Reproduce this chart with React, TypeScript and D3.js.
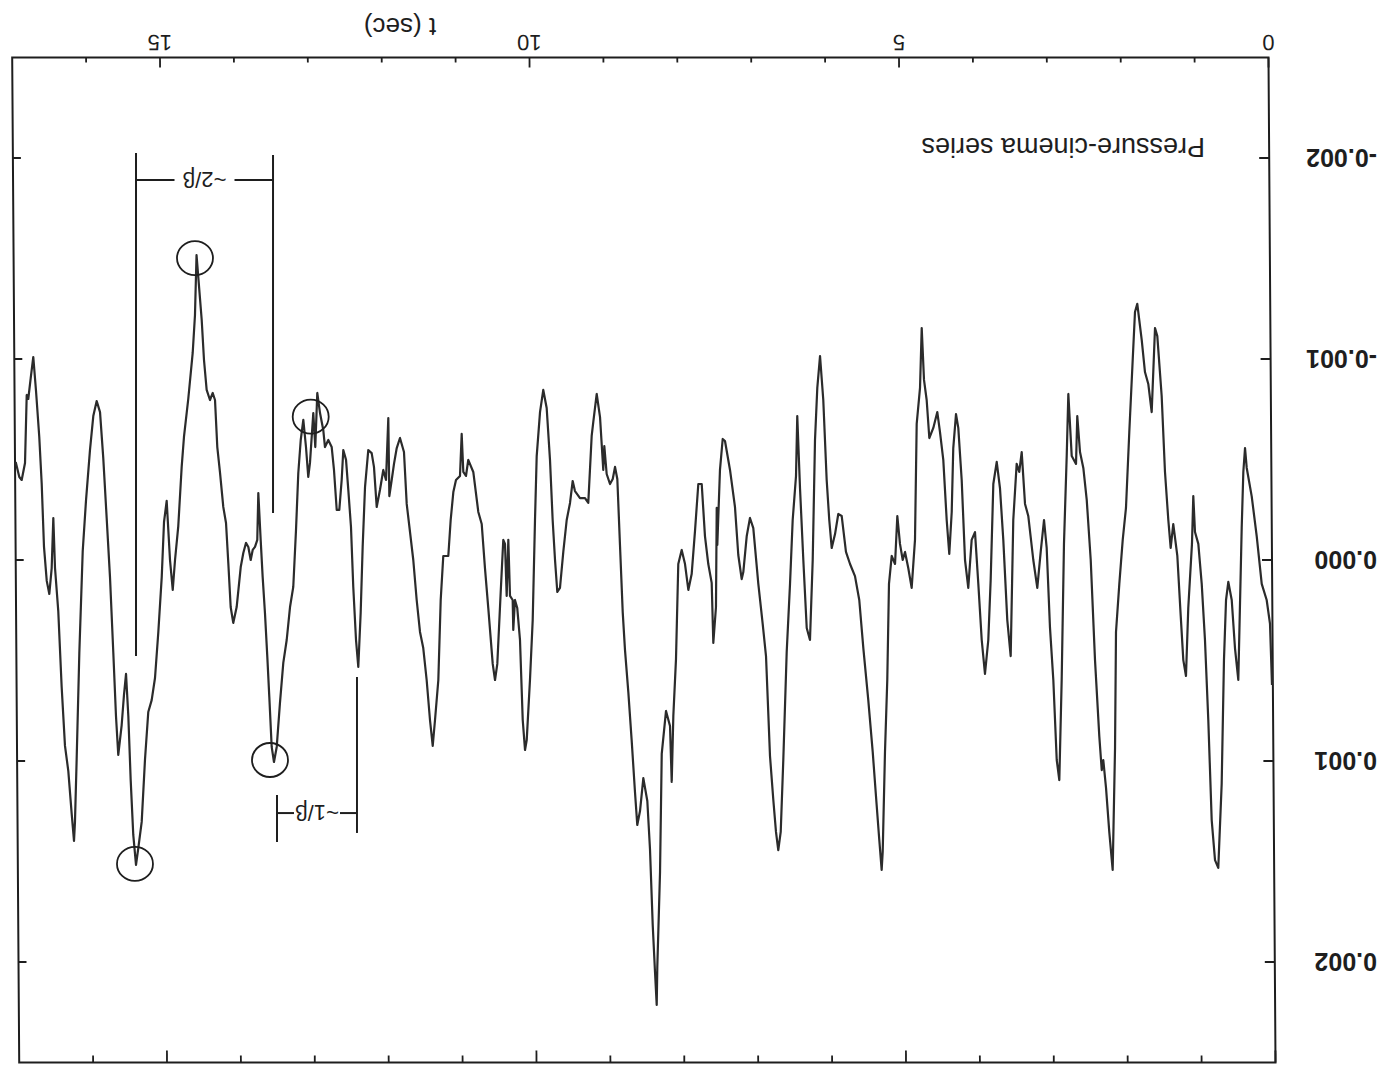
import React, { useEffect, useRef } from 'react';
import * as d3 from 'd3';

// time axis (sec) of the pressure trace
const timeSec = [
  0, 0.027, 0.072, 0.139, 0.207, 0.275, 0.342, 0.365, 0.388, 0.410, 0.456, 0.501, 0.545, 0.591, 0.622, 0.650,
  0.681, 0.727, 0.771, 0.816, 0.862, 0.907, 0.951, 0.997, 1.042, 1.065, 1.083, 1.133, 1.164, 1.200, 1.235, 1.281,
  1.336, 1.371, 1.403, 1.448, 1.493, 1.552, 1.583, 1.628, 1.674, 1.719, 1.763, 1.823, 1.854, 1.885, 1.931, 1.976,
  2.020, 2.066, 2.111, 2.124, 2.156, 2.202, 2.246, 2.283, 2.304, 2.337,
  2.395, 2.453, 2.507, 2.553, 2.598, 2.635, 2.652, 2.710, 2.756, 2.778, 2.815, 2.846, 2.878, 2.913, 2.959, 3.004,
  3.049, 3.085, 3.130, 3.176, 3.230, 3.298, 3.342, 3.387, 3.420, 3.455, 3.501, 3.536, 3.582, 3.636, 3.681, 3.725,
  3.771, 3.807, 3.839, 3.884, 3.928, 3.974, 4.019, 4.064, 4.110, 4.154, 4.199, 4.245, 4.276, 4.313, 4.334, 4.367,
  4.402, 4.448, 4.493, 4.529, 4.583, 4.637, 4.673, 4.709, 4.740,
  4.763, 4.808, 4.831, 4.876, 4.922, 4.966, 4.997, 5.034, 5.070, 5.101, 5.146, 5.183, 5.206, 5.237, 5.268, 5.282,
  5.314, 5.359, 5.403, 5.463, 5.530, 5.585, 5.643, 5.710, 5.765, 5.823, 5.869, 5.913, 5.958, 5.991, 6.026, 6.072,
  6.116, 6.153, 6.184, 6.215, 6.252, 6.296, 6.342, 6.387, 6.424, 6.441, 6.486, 6.522, 6.567, 6.613, 6.648, 6.681,
  6.712, 6.748, 6.793, 6.847, 6.892, 6.951, 7.019, 7.064, 7.108, 7.154,
  7.176, 7.222, 7.267, 7.334, 7.402, 7.433, 7.470, 7.506, 7.514, 7.524, 7.560, 7.582, 7.628, 7.673, 7.717, 7.763,
  7.808, 7.853, 7.898, 7.943, 7.988, 8.034, 8.065, 8.101, 8.123, 8.146, 8.200, 8.258, 8.281, 8.318, 8.326, 8.349,
  8.380, 8.417, 8.453, 8.507, 8.552, 8.589, 8.620, 8.665, 8.710, 8.755, 8.786, 8.823, 8.859, 8.890, 8.921, 8.958,
  9.003, 9.035, 9.049, 9.093, 9.138, 9.184, 9.206, 9.252, 9.296, 9.364, 9.432, 9.463, 9.499,
  9.544, 9.590, 9.635, 9.671, 9.702, 9.734, 9.770, 9.815, 9.861, 9.905, 9.950, 9.973, 10.004, 10.041, 10.085, 10.108,
  10.139, 10.176, 10.213, 10.244, 10.267, 10.275, 10.311, 10.334, 10.356, 10.379, 10.402, 10.437, 10.483, 10.514,
  10.545, 10.605, 10.650, 10.694, 10.740, 10.808, 10.876, 10.907, 10.943, 10.965, 10.988, 11.042, 11.078, 11.114,
  11.146, 11.214, 11.249, 11.281, 11.326, 11.357, 11.394, 11.439, 11.485, 11.529, 11.574, 11.620, 11.664, 11.709,
  11.746, 11.800, 11.844, 11.881, 11.912, 11.944, 11.958, 11.989, 12.026, 12.071,
  12.115, 12.152, 12.183, 12.229, 12.273, 12.305, 12.332, 12.364, 12.395, 12.432, 12.463, 12.499, 12.530, 12.567,
  12.589, 12.621, 12.656, 12.693, 12.724, 12.770, 12.815, 12.838, 12.882, 12.919, 12.946, 12.973, 13.018, 13.041,
  13.072, 13.108, 13.143, 13.176, 13.207, 13.244, 13.288, 13.333, 13.379, 13.424, 13.468, 13.505, 13.536, 13.568,
  13.595, 13.627, 13.658, 13.685, 13.717, 13.731, 13.762, 13.793, 13.820, 13.852, 13.884, 13.920, 13.955, 14.010,
  14.056, 14.091, 14.123, 14.154, 14.191, 14.235, 14.272, 14.303, 14.334, 14.371, 14.416, 14.452, 14.483, 14.553,
  14.574, 14.605, 14.665, 14.723, 14.754, 14.800, 14.844, 14.875, 14.912, 14.957, 14.993, 15.024, 15.070, 15.115,
  15.160, 15.206, 15.250, 15.295, 15.341, 15.372, 15.409, 15.444, 15.476, 15.507, 15.535, 15.566, 15.612, 15.643,
  15.679, 15.724, 15.769, 15.815, 15.859, 15.904, 15.950, 15.995, 16.049, 16.093, 16.139, 16.175, 16.198, 16.211,
  16.242, 16.288, 16.333, 16.378, 16.424, 16.468, 16.491, 16.513, 16.545, 16.580, 16.617, 16.648, 16.681, 16.725,
  16.762, 16.797, 16.830, 16.851, 16.874, 16.919, 16.951, 17.0
];

// pressure values
const pressure = [
  0.622e-3, 0.318e-3, 0.199e-3, 0.119e-3, -0.119e-3, -0.318e-3, -0.458e-3, -0.557e-3, -0.438e-3, -0.159e-3, 0.597e-3, 0.438e-3, 0.199e-3, 0.109e-3, 0.199e-3, 0.498e-3,
  1.114e-3, 1.532e-3, 1.493e-3, 1.294e-3, 0.796e-3, 0.398e-3, 0.119e-3, -0.080e-3, -0.139e-3, -0.318e-3, -0.080e-3, 0.239e-3, 0.577e-3, 0.498e-3, 0.279e-3, -0.020e-3,
  -0.179e-3, -0.060e-3, -0.199e-3, -0.438e-3, -0.816e-3, -1.114e-3, -1.154e-3, -0.736e-3, -0.876e-3, -0.935e-3, -1.095e-3, -1.274e-3, -1.234e-3, -0.995e-3, -0.637e-3, -0.259e-3,
  -0.100e-3, 0.119e-3, 0.358e-3, 0.935e-3, 1.542e-3, 1.353e-3, 1.134e-3, 0.995e-3, 1.045e-3, 0.876e-3,
  0.498e-3, 0, -0.299e-3, -0.458e-3, -0.537e-3, -0.716e-3, -0.478e-3, -0.517e-3, -0.826e-3, -0.517e-3, -0.080e-3, 0.597e-3, 1.095e-3, 0.995e-3, 0.597e-3, 0.338e-3,
  -0.060e-3, -0.199e-3, -0.040e-3, 0.139e-3, 0, -0.219e-3, -0.279e-3, -0.537e-3, -0.438e-3, -0.478e-3, -0.199e-3, 0.478e-3, 0.299e-3, -0.100e-3, -0.358e-3, -0.488e-3,
  -0.378e-3, 0.100e-3, 0.398e-3, 0.567e-3, 0.398e-3, 0.119e-3, -0.139e-3, -0.100e-3, 0.139e-3, 0, -0.398e-3, -0.657e-3, -0.726e-3, -0.557e-3, -0.239e-3, -0.030e-3,
  -0.199e-3, -0.498e-3, -0.637e-3, -0.736e-3, -0.657e-3, -0.607e-3, -0.796e-3, -0.896e-3, -1.154e-3,
  -0.856e-3, -0.677e-3, -0.100e-3, 0.139e-3, 0.040e-3, -0.040e-3, 0, -0.080e-3, -0.219e-3, 0.020e-3, -0.020e-3, 0.119e-3, 0.597e-3, 0.955e-3, 1.453e-3, 1.542e-3,
  1.393e-3, 1.174e-3, 0.955e-3, 0.697e-3, 0.438e-3, 0.199e-3, 0.080e-3, 0.020e-3, -0.040e-3, -0.219e-3, -0.229e-3, -0.129e-3, -0.060e-3, -0.199e-3, -0.398e-3, -0.796e-3,
  -1.015e-3, -0.856e-3, -0.597e-3, 0, 0.398e-3, 0.338e-3, 0, -0.358e-3, -0.716e-3, -0.418e-3, -0.199e-3, 0.119e-3, 0.458e-3, 0.995e-3, 1.353e-3, 1.443e-3,
  1.353e-3, 1.194e-3, 0.975e-3, 0.478e-3, 0.318e-3, 0.119e-3, -0.159e-3, -0.209e-3, -0.119e-3, 0.060e-3,
  0.095e-3, -0.025e-3, -0.264e-3, -0.448e-3, -0.592e-3, -0.602e-3, -0.448e-3, -0.075e-3, -0.259e-3, 0.234e-3, 0.413e-3, 0.114e-3, 0.020e-3, -0.119e-3, -0.378e-3, -0.378e-3,
  -0.144e-3, 0.070e-3, 0.149e-3, 0.020e-3, -0.050e-3, 0.020e-3, 0.493e-3, 0.776e-3, 1.104e-3, 0.826e-3, 0.751e-3, 0.965e-3, 1.552e-3, 2.025e-3, 2.214e-3, 2.050e-3,
  1.816e-3, 1.438e-3, 1.199e-3, 1.085e-3, 1.249e-3, 1.318e-3, 1.154e-3, 0.896e-3, 0.657e-3, 0.448e-3, 0.259e-3, -0.075e-3, -0.403e-3, -0.463e-3, -0.403e-3, -0.378e-3,
  -0.428e-3, -0.567e-3, -0.448e-3, -0.711e-3, -0.826e-3, -0.687e-3, -0.617e-3, -0.284e-3, -0.308e-3, -0.308e-3, -0.343e-3, -0.393e-3, -0.284e-3,
  -0.199e-3, -0.040e-3, 0.139e-3, 0.159e-3, 0, -0.199e-3, -0.498e-3, -0.756e-3, -0.846e-3, -0.736e-3, -0.517e-3, -0.199e-3, 0.299e-3, 0.597e-3, 0.896e-3, 0.945e-3,
  0.796e-3, 0.398e-3, 0.239e-3, 0.199e-3, 0.348e-3, 0.199e-3, 0.179e-3, -0.100e-3, 0.179e-3, -0.080e-3, -0.100e-3, 0.159e-3, 0.517e-3, 0.597e-3,
  0.517e-3, 0.239e-3, 0.040e-3, -0.179e-3, -0.239e-3, -0.438e-3, -0.498e-3, -0.418e-3, -0.438e-3, -0.627e-3, -0.418e-3, -0.398e-3, -0.338e-3, -0.199e-3,
  -0.020e-3, -0.020e-3, 0.199e-3, 0.597e-3, 0.796e-3, 0.925e-3, 0.796e-3, 0.597e-3, 0.438e-3, 0.358e-3, 0.199e-3, 0, -0.139e-3, -0.279e-3,
  -0.537e-3, -0.607e-3, -0.557e-3, -0.478e-3, -0.398e-3, -0.318e-3, -0.706e-3, -0.398e-3, -0.448e-3, -0.348e-3,
  -0.264e-3, -0.463e-3, -0.532e-3, -0.547e-3, -0.363e-3, -0.065e-3, 0.264e-3, 0.532e-3, 0.398e-3, 0.134e-3, -0.164e-3, -0.348e-3, -0.498e-3, -0.547e-3,
  -0.398e-3, -0.249e-3, -0.249e-3, -0.448e-3, -0.562e-3, -0.597e-3, -0.562e-3, -0.647e-3, -0.731e-3, -0.831e-3, -0.562e-3, -0.731e-3, -0.483e-3, -0.413e-3,
  -0.562e-3, -0.697e-3, -0.597e-3, -0.433e-3, -0.149e-3, 0.134e-3, 0.234e-3, 0.398e-3, 0.512e-3, 0.711e-3, 0.930e-3, 1.005e-3, 0.930e-3, 0.682e-3,
  0.483e-3, 0.264e-3, 0.085e-3, -0.100e-3, -0.333e-3, -0.100e-3, -0.065e-3, -0.050e-3, 0, -0.065e-3, -0.085e-3, -0.035e-3, 0.035e-3, 0.234e-3,
  0.313e-3, 0.234e-3, 0.015e-3, -0.184e-3, -0.264e-3, -0.433e-3, -0.562e-3, -0.796e-3, -0.831e-3, -0.796e-3, -0.846e-3, -0.995e-3, -1.194e-3, -1.517e-3,
  -1.219e-3, -1.030e-3, -0.801e-3, -0.612e-3, -0.463e-3, -0.169e-3, 0, 0.149e-3, 0, -0.294e-3, -0.189e-3, 0.085e-3, 0.358e-3, 0.587e-3,
  0.697e-3, 0.756e-3, 0.990e-3, 1.303e-3, 1.433e-3, 1.517e-3, 1.368e-3, 1.095e-3, 0.776e-3, 0.567e-3, 0.672e-3, 0.821e-3, 0.970e-3, 0.776e-3,
  0.463e-3, 0.085e-3, -0.209e-3, -0.507e-3, -0.736e-3, -0.791e-3, -0.716e-3, -0.547e-3, -0.294e-3, -0.045e-3, 0.463e-3, 0.990e-3, 1.303e-3, 1.398e-3,
  1.264e-3, 1.050e-3, 0.925e-3, 0.632e-3, 0.254e-3, 0.040e-3, -0.209e-3, 0.040e-3, 0.169e-3, 0.104e-3, -0.065e-3, -0.378e-3, -0.612e-3, -0.841e-3,
  -1.010e-3, -0.905e-3, -0.801e-3, -0.821e-3, -0.483e-3, -0.398e-3, -0.413e-3, -0.488e-3
];

const xMinorTicks = d3.range(0, 17);
const xMajorTicks = [0, 5, 10, 15];
const xTickLabels = ['0', '5', '10', '15'];
const yTicks = [-0.002, -0.001, 0, 0.001, 0.002];
const yTickLabels = ['-0.002', '-0.001', '0.000', '0.001', '0.002'];

// circled extrema [t, p]
const circledPoints = [
  [14.574, -1.502e-3],
  [13.008, -0.713e-3],
  [13.559, 0.995e-3],
  [15.386, 1.512e-3]
];

// period markers: label, left t, right t, bar level, [left bar from, to], [right bar from, to]
const periodMarks = [
  { label: '~2/\u03b2', tA: 15.372, tB: 13.518, p: -1.891e-3, barA: [-2.025e-3, 0.478e-3], barB: [-2.015e-3, -0.234e-3], gap: 30 },
  { label: '~1/\u03b2', tA: 13.464, tB: 12.382, p: 1.259e-3, barA: [1.169e-3, 1.403e-3], barB: [0.582e-3, 1.358e-3], gap: 23 }
];

function App() {
  const chartRef = useRef<SVGSVGElement>(null);

  useEffect(() => {
    var width = 1390,
      height = 1071;
    var font = "'Liberation Sans', Arial, sans-serif";
    var ink = '#1e1e1e';

    var svg = d3.select(chartRef.current);
    svg.selectAll('*').remove();

    svg.append('rect').attr('width', width).attr('height', height).attr('fill', '#fff');

    // the scanned page is upside down
    var root = svg.append('g').attr('transform', `rotate(180 ${width / 2} ${height / 2})`);

    var x = d3.scaleLinear().domain([0, 17]).range([118, 1374.3]);
    var y = d3.scaleLinear().domain([-0.0025, 0.0025]).range([1013.5, 8.5]);

    // frame and axes, slightly sheared like the scan
    var frame = root.append('g').attr('transform', 'translate(0 511) skewX(0.4) translate(0 -511)');

    frame.append('rect')
      .attr('x', x(0)).attr('y', y(0.0025))
      .attr('width', x(17) - x(0)).attr('height', y(-0.0025) - y(0.0025))
      .attr('fill', 'none').attr('stroke', ink).attr('stroke-width', 2);

    // bottom ticks (inward)
    frame.selectAll('.tb').data(xMinorTicks).enter().append('line')
      .attr('x1', d => x(d)).attr('x2', d => x(d))
      .attr('y1', y(-0.0025)).attr('y2', d => y(-0.0025) - (d % 5 === 0 ? 10 : 5))
      .attr('stroke', ink).attr('stroke-width', 1.8);
    // top ticks (inward)
    frame.selectAll('.tt').data(xMinorTicks).enter().append('line')
      .attr('x1', d => x(d)).attr('x2', d => x(d))
      .attr('y1', y(0.0025)).attr('y2', d => y(0.0025) + (d % 5 === 0 ? 12 : 7))
      .attr('stroke', ink).attr('stroke-width', 1.8);
    // left / right ticks
    frame.selectAll('.tl').data(yTicks).enter().append('line')
      .attr('x1', x(0)).attr('x2', x(0) + 10)
      .attr('y1', d => y(d)).attr('y2', d => y(d))
      .attr('stroke', ink).attr('stroke-width', 1.8);
    frame.selectAll('.tr').data(yTicks).enter().append('line')
      .attr('x1', x(17)).attr('x2', x(17) - 8)
      .attr('y1', d => y(d)).attr('y2', d => y(d))
      .attr('stroke', ink).attr('stroke-width', 1.8);

    frame.selectAll('.xl').data(xMajorTicks).enter().append('text')
      .attr('x', d => x(d)).attr('y', 1036)
      .attr('text-anchor', 'middle')
      .style('font-family', font).style('font-size', '22px').attr('fill', ink)
      .text((d, i) => xTickLabels[i]);

    root.append('text')
      .attr('x', 990).attr('y', 1053)
      .attr('text-anchor', 'middle')
      .style('font-family', font).style('font-size', '26px').attr('fill', ink)
      .text('t (sec)');

    root.selectAll('.yl').data(yTicks).enter().append('text')
      .attr('x', 13).attr('y', d => y(d)).attr('dy', '0.36em')
      .style('font-family', font).style('font-size', '25px').style('font-weight', 'bold').attr('fill', ink)
      .text((d, i) => yTickLabels[i]);

    root.append('text')
      .attr('x', 185).attr('y', 933)
      .style('font-family', font).style('font-size', '27px').attr('fill', ink)
      .text('Pressure-cinema series');

    // the trace
    var line = d3.line<number>()
      .x((d, i) => x(timeSec[i]))
      .y(d => y(d));

    root.append('path')
      .attr('d', line(pressure))
      .attr('fill', 'none')
      .attr('stroke', '#2b2b2b')
      .attr('stroke-width', 2.2)
      .attr('stroke-linejoin', 'round');

    // circled peaks
    root.selectAll('.peak').data(circledPoints).enter().append('ellipse')
      .attr('cx', d => x(d[0])).attr('cy', d => y(d[1]))
      .attr('rx', 18).attr('ry', 17)
      .attr('fill', 'none').attr('stroke', ink).attr('stroke-width', 1.8);

    // period brackets
    periodMarks.forEach(m => {
      var g = root.append('g').attr('stroke', ink).attr('stroke-width', 2);
      var mid = (x(m.tA) + x(m.tB)) / 2;
      g.append('line').attr('x1', x(m.tA)).attr('x2', x(m.tA)).attr('y1', y(m.barA[0])).attr('y2', y(m.barA[1]));
      g.append('line').attr('x1', x(m.tB)).attr('x2', x(m.tB)).attr('y1', y(m.barB[0])).attr('y2', y(m.barB[1]));
      g.append('line').attr('x1', x(m.tA)).attr('x2', mid + m.gap).attr('y1', y(m.p)).attr('y2', y(m.p));
      g.append('line').attr('x1', mid - m.gap).attr('x2', x(m.tB)).attr('y1', y(m.p)).attr('y2', y(m.p));
      root.append('text')
        .attr('x', mid).attr('y', y(m.p)).attr('dy', '0.35em')
        .attr('text-anchor', 'middle')
        .style('font-family', font).style('font-size', '22px').attr('fill', ink)
        .text(m.label);
    });
  }, []);

  return (
    <svg ref={chartRef} width={1390} height={1071}
      style={{ position: 'absolute', left: 0, top: 0, display: 'block' }} />
  );
}

export default App;
